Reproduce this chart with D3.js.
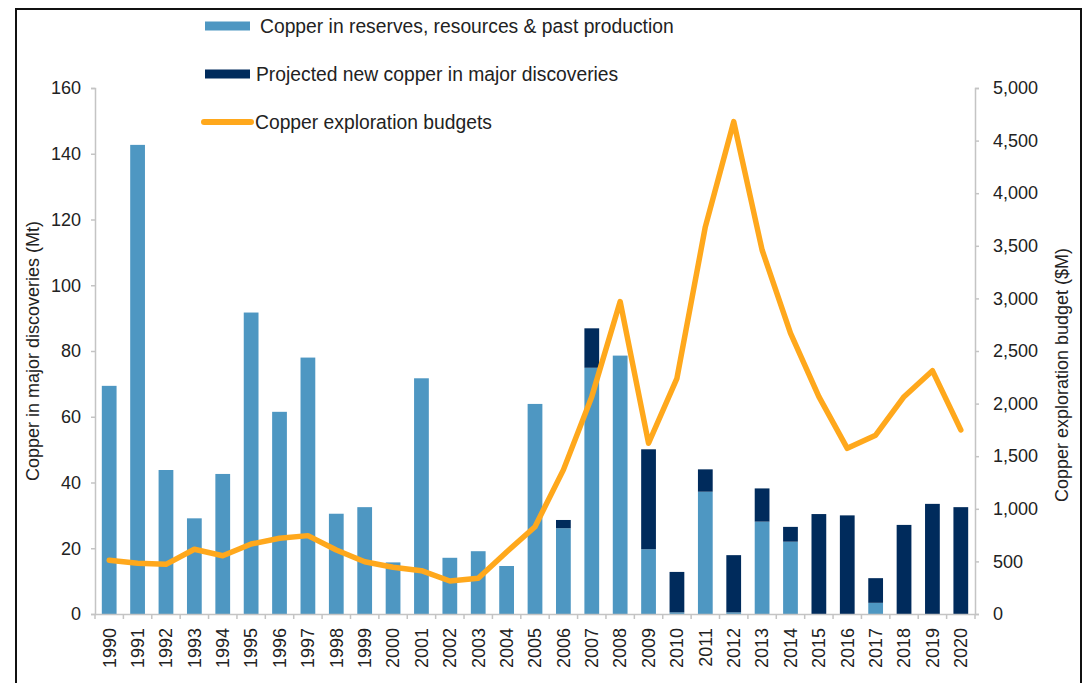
<!DOCTYPE html>
<html>
<head>
<meta charset="utf-8">
<script src="https://cdn.jsdelivr.net/npm/d3@7"></script>
<style>
  body { margin: 0; background: #fff; }
  text { font-family: "Liberation Sans", Arial, sans-serif; fill: #222; }
</style>
</head>
<body>
<div id="chart"></div>
<script>
var years = d3.range(1990, 2021).map(String);

// Copper in reserves, resources & past production (Mt)
var reserves = [69.4, 142.7, 43.8, 29.1, 42.6, 91.7, 61.5, 78, 30.5, 32.5,
    15.7, 71.7, 17.1, 19.1, 14.6, 63.9, 26.1, 74.9, 78.6, 19.7,
    0.5, 37.2, 0.5, 28.1, 22.0, 0, 0, 3.4, 0, 0, 0];

// Projected new copper in major discoveries (Mt)
var projected = [0, 0, 0, 0, 0, 0, 0, 0, 0, 0,
    0, 0, 0, 0, 0, 0, 2.5, 12.0, 0, 30.4,
    12.3, 6.8, 17.4, 10.1, 4.5, 30.4, 30.0, 7.5, 27.1, 33.5, 32.5];

// Copper exploration budgets ($M)
var budgets = [510, 482, 472, 615, 554, 665, 720, 745, 608, 497,
    444, 412, 314, 339, 590, 830, 1370, 2066, 2970, 1623,
    2240, 3680, 4680, 3460, 2670, 2066, 1575, 1700, 2066, 2313, 1750];

var leftTicks = [0, 20, 40, 60, 80, 100, 120, 140, 160];
var rightTicks = [0, 500, 1000, 1500, 2000, 2500, 3000, 3500, 4000, 4500, 5000];

var seriesNames = ['Copper in reserves, resources & past production',
    'Projected new copper in major discoveries',
    'Copper exploration budgets'];

var colors = ['#4e97c2', '#002b5c', '#ffa81c'];

var width = 1086;
var height = 683;
var margin = { left: 95, right: 111, top: 88, bottom: 69 };

var svg = d3.select('#chart')
    .append('svg')
    .attr('width', width)
    .attr('height', height);

// outer frame
svg.append('rect')
    .attr('x', 16)
    .attr('y', 9)
    .attr('width', 1065)
    .attr('height', 690)
    .attr('fill', 'none')
    .attr('stroke', '#111')
    .attr('stroke-width', 2);

var x = d3.scaleBand()
    .domain(years)
    .range([margin.left, width - margin.right])
    .paddingInner(0.48)
    .paddingOuter(0.24);

var yLeft = d3.scaleLinear()
    .domain([0, 160])
    .range([height - margin.bottom, margin.top]);

var yRight = d3.scaleLinear()
    .domain([0, 5000])
    .range([height - margin.bottom, margin.top]);

var table = years.map(function(d, i) {
    return { year: d, reserves: reserves[i], projected: projected[i] };
});

var stack = d3.stack().keys(['reserves', 'projected']);
var layers = stack(table);

svg.selectAll('g.layer')
    .data(layers)
    .enter()
    .append('g')
    .attr('class', 'layer')
    .attr('fill', function(d, i) { return colors[i]; })
    .selectAll('rect')
    .data(function(d) { return d; })
    .enter()
    .append('rect')
    .attr('x', function(d) { return x(d.data.year); })
    .attr('width', x.bandwidth())
    .attr('y', function(d) { return yLeft(d[1]); })
    .attr('height', function(d) { return yLeft(d[0]) - yLeft(d[1]); });

// axes
var axisColor = '#c4c4c4';

var gx = svg.append('g')
    .attr('transform', 'translate(0,' + (height - margin.bottom) + ')')
    .call(d3.axisBottom(x).tickSize(0).tickPadding(14));
gx.selectAll('text')
    .attr('transform', 'rotate(-90)')
    .attr('text-anchor', 'end')
    .attr('x', -14)
    .attr('y', 0)
    .attr('dy', '0.35em')
    .style('font-size', '18px');

// x ticks sit between the bars
var step = x.step();
svg.append('g')
    .selectAll('line')
    .data(d3.range(years.length + 1))
    .enter()
    .append('line')
    .attr('x1', function(i) { return margin.left + i * step; })
    .attr('x2', function(i) { return margin.left + i * step; })
    .attr('y1', height - margin.bottom)
    .attr('y2', height - margin.bottom + 5)
    .attr('stroke', axisColor)
    .attr('stroke-width', 1.5);

var gl = svg.append('g')
    .attr('transform', 'translate(' + margin.left + ',0)')
    .call(d3.axisLeft(yLeft).tickValues(leftTicks).tickSize(4).tickPadding(10));
gl.selectAll('text').style('font-size', '18px');

var gr = svg.append('g')
    .attr('transform', 'translate(' + (width - margin.right) + ',0)')
    .call(d3.axisRight(yRight).tickValues(rightTicks).tickSize(4).tickPadding(14)
        .tickFormat(d3.format(',')));
gr.selectAll('text').style('font-size', '18px');

[gx, gl, gr].forEach(function(g) {
    g.select('.domain').attr('stroke', axisColor).attr('stroke-width', 1.5);
    g.selectAll('.tick line').attr('stroke', axisColor).attr('stroke-width', 1.5);
    g.selectAll('text').attr('fill', '#222');
});

// budget line
var line = d3.line()
    .x(function(d, i) { return x(years[i]) + x.bandwidth() / 2; })
    .y(function(d) { return yRight(d); });

svg.append('path')
    .datum(budgets)
    .attr('d', line)
    .attr('fill', 'none')
    .attr('stroke', colors[2])
    .attr('stroke-width', 5.5)
    .attr('stroke-linejoin', 'round')
    .attr('stroke-linecap', 'round');

// axis titles
svg.append('text')
    .attr('transform', 'translate(33,' + ((margin.top + height - margin.bottom) / 2) + ')rotate(-90)')
    .attr('text-anchor', 'middle')
    .attr('dy', '0.35em')
    .style('font-size', '18px')
    .text('Copper in major discoveries (Mt)');

svg.append('text')
    .attr('transform', 'translate(1062,375)rotate(-90)')
    .attr('text-anchor', 'middle')
    .attr('dy', '0.35em')
    .style('font-size', '18px')
    .text('Copper exploration budget ($M)');

// legend
var legendY = [26, 74, 122];
var legendTextX = [260, 256, 255];

var legend = svg.selectAll('.legend')
    .data(seriesNames)
    .enter()
    .append('g')
    .attr('class', 'legend');

legend.filter(function(d, i) { return i < 2; })
    .append('rect')
    .attr('x', 205)
    .attr('y', function(d, i) { return legendY[i] - 4.5; })
    .attr('width', 45)
    .attr('height', 9)
    .attr('fill', function(d, i) { return colors[i]; });

legend.filter(function(d, i) { return i === 2; })
    .append('line')
    .attr('x1', 204)
    .attr('x2', 251)
    .attr('y1', legendY[2])
    .attr('y2', legendY[2])
    .attr('stroke', colors[2])
    .attr('stroke-width', 6)
    .attr('stroke-linecap', 'round');

legend.append('text')
    .attr('x', function(d, i) { return legendTextX[i]; })
    .attr('y', function(d, i) { return legendY[i]; })
    .attr('dy', '0.35em')
    .style('font-size', '19.3px')
    .text(function(d) { return d; });
</script>
</body>
</html>
